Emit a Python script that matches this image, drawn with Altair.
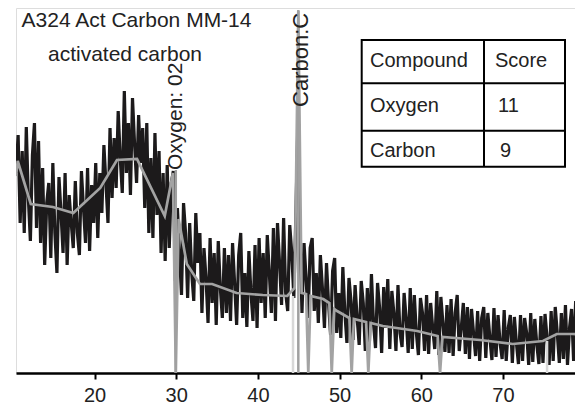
import altair as alt
import pandas as pd

# ---- XRD pattern (height above baseline, arbitrary units), 0.25 deg steps from 10.4 deg
seg_a = [200, 238, 150, 222, 140, 246, 175, 132, 218, 250, 145, 232]
seg_b = [130, 205, 108, 170, 190, 115, 210, 140, 100, 196, 160, 120, 200, 108, 178, 150, 125]
seg_c = [192, 140, 118, 202, 165, 130, 205, 122, 188, 150, 210, 135, 200]
seg_d = [160, 228, 190, 150, 245, 175, 235]
seg_e = [185, 262, 215, 180, 282, 200, 250, 178, 275, 230, 190, 258]
seg_f = [210, 245, 165, 250, 140, 215, 135, 240, 158, 222, 120, 200]
seg_g = [112, 208, 125, 190, 202]
seg_h = [92, 165, 120, 78, 170, 140, 75, 150, 100, 72, 160, 110]
seg_i = [140, 60, 125, 95, 50, 135, 70, 120, 48, 132, 85, 55, 125, 60, 118]
seg_j = [52, 130, 90, 48, 118, 140, 55, 100, 46, 122, 80, 52, 128, 45, 135, 70, 120]
seg_k = [55, 138, 100, 60, 145, 52, 150, 110, 68, 155, 80, 62, 148, 120, 75]
seg_l = [158, 250, 140]
seg_m = [60, 130, 95, 55, 125, 135, 62, 100, 50, 118, 85]
seg_n = [45, 110, 70, 38, 102, 115, 40, 80, 35, 106, 60, 30, 95, 72]
seg_o = [33, 88, 55, 28, 92, 70, 22, 85, 30, 99, 50, 25, 90, 65, 20, 86, 45, 94, 24, 82, 60, 22, 88, 40]
seg_p = [26, 80, 55, 20, 85, 24, 78, 40, 18, 75, 60, 22, 78, 19, 70, 45, 24, 82, 18, 76, 50, 21, 68, 20, 74]
seg_q = [17, 60, 78, 22, 45, 70, 19, 66, 14, 64, 40, 17, 62, 12, 55, 66, 15, 60, 35, 13, 65, 16, 58, 30]
seg_r = [14, 63, 12, 45, 58, 10, 56, 30, 9, 58, 12, 55, 40, 8, 60, 11, 54, 28, 9, 57]
seg_s = [10, 59, 35, 8, 62, 12, 66, 40, 10, 60, 14, 68, 8, 45, 64, 12, 72, 15, 66, 10, 70]

intensity = (seg_a + seg_b + seg_c + seg_d + seg_e + seg_f + seg_g + seg_h + seg_i + seg_j
             + seg_k + seg_l + seg_m + seg_n + seg_o + seg_p + seg_q + seg_r + seg_s)
two_theta = [round(10.4 + 0.25 * i, 2) for i in range(len(intensity))]

# ---- smoothed / fitted trace (gray)
smooth_theta = [10.4, 10.6, 12.2, 14.9, 17.4, 20.7, 22.75, 25.2, 28.6, 29.6, 29.95, 30.3,
                31.3, 32.9, 34.4, 37.4, 40.6, 43.6, 44.5, 44.95, 45.35, 45.9, 46.17, 46.45,
                48.0, 48.75, 49.04, 49.35, 49.7, 51.2, 51.48, 51.75, 53.25, 53.52, 53.8,
                55.3, 59.5, 62.0, 62.3, 62.6, 67.2, 71.2, 74.9, 76.6, 78.6, 79.8]
smooth_val = [197, 212, 169, 166, 160, 185, 213, 214, 157, 200, 0, 154,
              109, 89, 89, 80, 78, 77, 85, 362, 80, 79, 0, 77,
              74, 70, 0, 64, 62, 55, 0, 54, 51, 0, 50,
              47, 42, 37, 0, 36, 33, 29, 32, 39, 39, 38]

# ---- faint reflection markers
faint_theta = [44.3, 75.4]
faint_top = [77, 32]

# ---- identified phases
ref_names = ["Oxygen: 02", "Carbon:C"]
ref_theta = [29.95, 44.95]
ref_top = [203, 363]
ref_label_theta = [30.0, 45.27]
ref_label_base = [203, 266]

# ---- table
table_header = ["Compound", "Score"]
table_compounds = ["Oxygen", "Carbon"]
table_scores = ["11", "9"]

title_lines = ["A324 Act Carbon MM-14", "activated carbon"]

FONT = "Liberation Sans"
TXT = "#222222"
W, H = 559, 365

xscale = alt.Scale(domain=[10.39, 78.82], nice=False, zero=False)
yscale = alt.Scale(domain=[0, H], nice=False, zero=False)

xaxis = alt.Axis(values=[20, 30, 40, 50, 60, 70], grid=False, title=None, format="d",
                 domainColor="black", domainWidth=2.5, tickColor="black", tickWidth=2,
                 tickSize=6, labelFontSize=20, labelFont=FONT, labelColor=TXT,
                 labelPadding=6)

df = pd.DataFrame({"theta": two_theta, "val": intensity})
sm = pd.DataFrame({"theta": smooth_theta, "val": smooth_val})
faint = pd.DataFrame({"theta": faint_theta, "top": faint_top})
refs = pd.DataFrame({"theta": ref_theta, "top": ref_top, "name": ref_names})

black = alt.Chart(df).mark_line(color="#1c1a1b", strokeWidth=3.2, clip=True).encode(
    x=alt.X("theta:Q", scale=xscale, axis=xaxis),
    y=alt.Y("val:Q", scale=yscale, axis=None),
)

faint_rules = alt.Chart(faint).mark_rule(color="#d8d8d8", strokeWidth=2.5, clip=True).encode(
    x=alt.X("theta:Q", scale=xscale),
    y=alt.Y("zero:Q", scale=yscale),
    y2="top:Q",
).transform_calculate(zero="0")

gray = alt.Chart(sm).mark_line(color="#a3a3a3", strokeWidth=2.7, clip=True).encode(
    x=alt.X("theta:Q", scale=xscale),
    y=alt.Y("val:Q", scale=yscale),
)

ref_rules = alt.Chart(refs).mark_rule(color="#a0a0a0", strokeWidth=2.5, clip=True).encode(
    x=alt.X("theta:Q", scale=xscale),
    y=alt.Y("zero:Q", scale=yscale),
    y2="top:Q",
).transform_calculate(zero="0")

layers = [black, faint_rules, gray, ref_rules]

label_sizes = [21, 22]
for name, th, base, fs in zip(ref_names, ref_label_theta, ref_label_base, label_sizes):
    layers.append(
        alt.Chart(pd.DataFrame({"t": [name]})).mark_text(
            angle=270, align="left", baseline="middle", font=FONT, fontSize=fs, color=TXT
        ).encode(
            x=alt.datum(th, scale=xscale),
            y=alt.datum(base, scale=yscale),
            text="t:N",
        )
    )

# title lines (plot-pixel positions)
title_pos = [(120.5, 19), (109, 52.5)]
for line, (tx, ty) in zip(title_lines, title_pos):
    layers.append(
        alt.Chart(pd.DataFrame({"t": [line]})).mark_text(
            align="center", baseline="alphabetic", font=FONT, fontSize=21, color=TXT
        ).encode(x=alt.value(tx), y=alt.value(ty), text="t:N")
    )

# table frame
TX0, TX1, TY0, TY1 = 345.7, 549, 32, 158.7
TXD = 468
row_lines = [75.3, 122.7]
layers.append(
    alt.Chart(pd.DataFrame({"a": [0]})).mark_rect(fill=None, stroke="black", strokeWidth=2).encode(
        x=alt.value(TX0), x2=alt.value(TX1), y=alt.value(TY0), y2=alt.value(TY1)
    )
)
layers.append(
    alt.Chart(pd.DataFrame({"a": [0]})).mark_rule(color="black", strokeWidth=2).encode(
        x=alt.value(TXD), y=alt.value(TY0), y2=alt.value(TY1)
    )
)
for ry in row_lines:
    layers.append(
        alt.Chart(pd.DataFrame({"a": [0]})).mark_rule(color="black", strokeWidth=2).encode(
            x=alt.value(TX0), x2=alt.value(TX1), y=alt.value(ry)
        )
    )

row_base = [59, 104, 149]
col1_x = 354
col2_x = [479, 482, 484]
cells = [(table_header[0], col1_x, row_base[0]), (table_header[1], col2_x[0], row_base[0])]
for k, (c, s) in enumerate(zip(table_compounds, table_scores)):
    cells.append((c, col1_x, row_base[k + 1]))
    cells.append((s, col2_x[k + 1], row_base[k + 1]))
for txt, cx, cy in cells:
    layers.append(
        alt.Chart(pd.DataFrame({"t": [txt]})).mark_text(
            align="left", baseline="alphabetic", font=FONT, fontSize=20, color=TXT
        ).encode(x=alt.value(cx), y=alt.value(cy), text="t:N")
    )

chart = alt.layer(*layers).properties(
    width=W, height=H,
    padding={"left": 8, "top": 0, "right": 0, "bottom": 0},
).configure_view(stroke=None).configure(background="white")

chart.save("out.html", embed_options={"renderer": "svg", "actions": False})
